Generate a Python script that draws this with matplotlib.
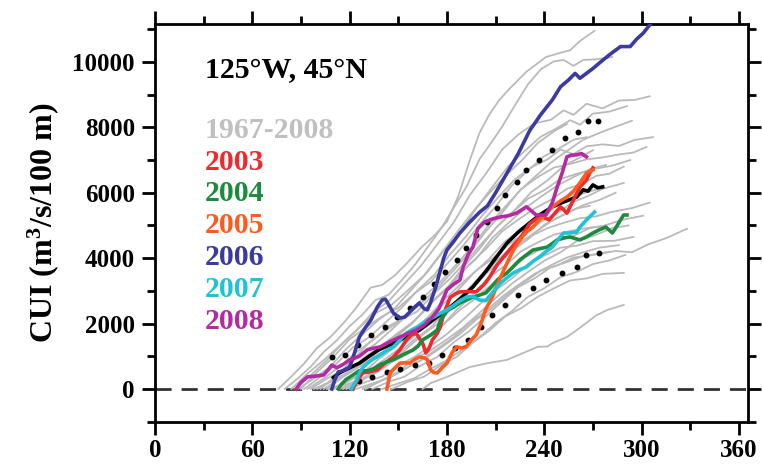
import matplotlib
matplotlib.use("Agg")
import matplotlib.pyplot as plt
from matplotlib.ticker import MultipleLocator

plt.rcParams['font.family'] = ['Liberation Serif', 'DejaVu Serif']
plt.rcParams['font.weight'] = 'bold'
plt.rcParams['mathtext.fontset'] = 'custom'
plt.rcParams['mathtext.rm'] = 'Liberation Serif:bold'
plt.rcParams['mathtext.bf'] = 'Liberation Serif:bold'
plt.rcParams['mathtext.default'] = 'bf'

# cumulative upwelling index, 1967-2008 (day of year, CUI)
grey_years = [
    [(76,0),(84,380),(92,780),(100,1260),(108,1580),(116,2000),(124,2480),(133,3100),(140,3180),(148,3480),(156,3880),(164,4320),(172,4680),(180,5120),(187,5900),(194,6980),(200,7820),(206,8380),(212,8820),(218,9150),(229,9700),(241,10150),(250,10280),(256,10360),(262,10640),(271,10950)],
    [(80,0),(88,320),(96,680),(104,1130),(112,1480),(120,1920),(128,2280),(136,2720),(144,2880),(152,3320),(160,3780),(168,4330),(176,4880),(184,5520),(192,6180),(200,7020),(208,7580),(214,8020),(222,8680),(230,9320),(238,9780),(246,10020),(252,10060),(258,9880),(264,10060),(272,10080),(282,10150)],
    [(84,0),(94,470),(104,880),(114,1330),(124,1770),(134,2330),(144,2680),(154,3230),(164,3770),(174,4420),(184,5080),(194,5920),(204,6580),(214,7320),(224,7780),(234,8120),(244,8230),(252,8520),(258,8380),(266,8720),(276,8580),(286,8820),(296,8840),(305,8950)],
    [(88,0),(98,320),(108,680),(118,1230),(128,1680),(138,2120),(148,2480),(158,3030),(168,3580),(178,4230),(188,4780),(198,5520),(208,6180),(218,6820),(228,7280),(238,7720),(248,7980),(256,8220),(262,8080),(270,8420),(280,8480),(291,8650)],
    [(92,0),(102,370),(112,780),(122,1270),(132,1580),(142,2030),(152,2480),(162,3020),(172,3480),(182,4120),(192,4680),(202,5320),(212,5880),(222,6420),(232,6780),(242,7020),(250,7320),(258,7180),(266,7420),(276,7480),(286,7430),(296,7620),(307,7700)],
    [(96,0),(106,320),(116,580),(126,1030),(136,1380),(146,1820),(156,2280),(166,2830),(176,3280),(186,3820),(196,4380),(206,5030),(216,5580),(226,6120),(236,6480),(246,6770),(256,6880),(266,7020),(276,7080),(286,7170),(295,7230),(303,7400)],
    [(100,0),(110,270),(120,530),(130,970),(140,1330),(150,1720),(160,2080),(170,2630),(180,3080),(190,3720),(200,4280),(210,4920),(220,5380),(230,5820),(240,6080),(250,6420),(260,6580),(270,6720),(282,6830),(293,7000)],
    [(104,0),(114,320),(124,680),(134,1020),(144,1380),(154,1820),(164,2280),(174,2820),(184,3280),(194,3820),(204,4280),(214,4820),(224,5180),(234,5520),(244,5780),(254,6120),(264,6280),(272,6520),(280,6580),(289,6800)],
    [(108,0),(118,220),(128,480),(138,920),(148,1280),(158,1720),(168,2180),(178,2720),(188,3180),(198,3620),(208,3980),(218,4420),(228,4780),(238,5120),(248,5380),(258,5720),(266,5880),(276,6120),(289,6300)],
    [(112,0),(122,320),(132,580),(142,920),(152,1280),(162,1720),(172,2080),(182,2520),(192,2980),(202,3520),(212,3980),(222,4420),(232,4680),(242,4920),(252,5080),(262,5220),(272,5280),(282,5420),(294,5530),(305,5700)],
    [(116,0),(126,270),(136,480),(146,820),(156,1080),(166,1520),(176,1880),(186,2420),(196,2880),(206,3420),(216,3780),(226,4220),(236,4480),(246,4720),(256,4830),(266,4920),(276,4980),(288,5170),(301,5300)],
    [(134,0),(144,220),(154,380),(164,720),(174,980),(184,1420),(194,1780),(204,2220),(214,2680),(224,3120),(234,3380),(244,3720),(254,3880),(264,4070),(274,4130),(284,4220),(294,4180),(304,4420),(316,4630),(328,4900)],
    [(120,0),(130,220),(140,380),(150,720),(160,980),(170,1320),(180,1680),(190,2120),(200,2580),(210,3020),(220,3380),(230,3820),(240,4080),(250,4320),(260,4380),(270,4520),(283,4530),(295,4650)],
    [(165,0),(170,180),(180,370),(194,670),(205,790),(217,890),(227,1100),(236,1290),(242,1300),(245,1400),(254,1590),(260,1800),(266,2020),(272,2250),(279,2420),(289,2570)],
    [(86,0),(96,420),(106,880),(116,1420),(126,1880),(136,2320),(146,2580),(156,3020),(166,3480),(176,4120),(186,4780),(196,5420),(206,5980),(216,6520),(226,6980),(236,7520),(246,7880),(254,8100)],
    [(90,0),(100,520),(110,980),(120,1520),(130,1880),(140,2220),(150,2480),(160,2920),(170,3280),(180,3820),(190,4380),(200,5020),(210,5580),(220,6220),(230,6680),(240,7120),(250,7380),(258,7620),(266,7700)],
    [(98,0),(108,220),(118,480),(128,920),(138,1280),(148,1620),(158,1980),(168,2520),(178,2980),(188,3520),(198,3980),(208,4620),(218,5080),(228,5520),(238,5880),(248,6220),(258,6480),(268,6720),(278,6850)],
    [(106,0),(116,370),(126,680),(136,1020),(146,1280),(156,1720),(166,2080),(176,2520),(186,2980),(196,3520),(206,3980),(216,4520),(226,4880),(236,5320),(246,5580),(256,5920),(264,5980),(272,6100)],
    [(110,0),(120,170),(130,380),(140,720),(150,1080),(160,1520),(170,1880),(180,2420),(190,2880),(200,3420),(210,3780),(220,4220),(230,4580),(240,5020),(250,5280),(260,5520),(268,5600)],
    [(114,0),(124,220),(134,430),(144,820),(154,1180),(164,1620),(174,1980),(184,2520),(194,2980),(204,3520),(214,3980),(224,4420),(234,4780),(244,5120),(254,5380),(264,5620),(274,5780),(284,6000)],
    [(118,0),(128,270),(138,580),(148,920),(158,1180),(168,1620),(178,1980),(188,2420),(198,2780),(208,3220),(218,3580),(228,4020),(238,4280),(248,4520),(258,4680),(268,4920),(278,5000)],
    [(124,0),(134,170),(144,330),(154,620),(164,880),(174,1220),(184,1580),(194,2020),(204,2380),(214,2820),(224,3180),(234,3520),(244,3780),(254,4020),(264,4180),(274,4320),(286,4400)],
    [(128,0),(138,220),(148,430),(158,720),(168,980),(178,1320),(188,1680),(198,2120),(208,2480),(218,2920),(228,3280),(238,3620),(248,3780),(258,4020),(268,4080),(280,4200)],
    [(140,0),(150,170),(160,330),(170,620),(180,880),(190,1220),(200,1580),(210,2020),(220,2380),(230,2820),(240,3080),(250,3420),(260,3580),(270,3820),(280,3930),(290,4100)],
    [(146,0),(156,220),(166,380),(176,720),(186,980),(196,1420),(206,1780),(216,2220),(226,2480),(236,2820),(246,3080),(256,3320),(266,3380),(276,3520),(289,3550)],
    [(102,0),(112,420),(122,880),(132,1420),(142,1780),(152,2120),(162,2380),(172,2920),(182,3380),(192,3920),(202,4480),(212,5020),(222,5480),(232,6020),(242,6380),(252,6820),(262,7080),(270,7300)],
    [(94,0),(104,320),(114,680),(124,1120),(134,1480),(144,1920),(154,2180),(164,2620),(174,3080),(184,3620),(194,4180),(204,4820),(214,5380),(224,6020),(234,6480),(244,6920),(254,7280),(264,7620),(274,7830),(284,8020),(294,8200)],
    [(130,0),(140,270),(150,530),(160,920),(170,1180),(180,1520),(190,1880),(200,2320),(210,2780),(220,3220),(230,3580),(240,3920),(250,4180),(260,4520),(270,4680),(282,4920),(292,5000)],
]

cui_2003 = [(122,0),(124,180),(126,350),(128,490),(132,520),(137,580),(142,800),(147,980),(151,1200),(155,1500),(158,1650),(161,1710),(163,1550),(165,1400),(167,1100),(169,1250),(171,1500),(174,1700),(176,1900),(178,2300),(180,2550),(182,2800),(185,2900),(188,2970),(193,2980),(198,2970),(203,3200),(206,3400),(211,3800),(217,4160),(221,4400),(225,4600),(231,5050),(235,5200),(239,5260),(243,5170),(247,5400),(250,5570),(254,5380),(258,5780),(262,6180),(266,6390),(268,6600),(270,6760)]
cui_2004 = [(113,0),(115,150),(118,300),(120,360),(126,560),(131,560),(135,620),(139,750),(144,850),(147,900),(151,1000),(155,1100),(159,1190),(162,1300),(165,1500),(170,1650),(174,1800),(176,2100),(180,2400),(184,2500),(188,2630),(192,2720),(196,2810),(200,2870),(204,2940),(208,3150),(211,3330),(214,3450),(217,3550),(221,3750),(225,3950),(229,4100),(233,4250),(238,4300),(242,4340),(245,4450),(248,4560),(252,4620),(256,4650),(259,4600),(262,4560),(266,4650),(270,4770),(274,4870),(278,4950),(282,4770),(285,5000),(287,5170),(289,5320),(291,5320)]
cui_2005 = [(143,0),(144,250),(145,490),(148,650),(151,790),(154,800),(157,790),(160,900),(163,980),(166,950),(168,890),(170,580),(172,500),(174,490),(177,650),(180,790),(183,1100),(186,1290),(189,1250),(192,1300),(195,1500),(198,1650),(201,2000),(204,2450),(208,2810),(212,3300),(217,3850),(221,4250),(225,4560),(229,4800),(233,4950),(237,5170),(241,5350),(245,5570),(250,5750),(254,5870),(258,6050),(262,6300),(266,6600),(270,6700)]
cui_2006 = [(109,0),(111,300),(113,520),(116,560),(120,670),(123,1100),(126,1590),(130,1900),(133,2100),(137,2500),(140,2720),(142,2750),(145,2500),(147,2320),(151,2170),(154,2200),(157,2350),(160,2500),(163,2630),(166,2450),(168,2420),(170,2660),(173,3100),(176,3640),(178,4000),(180,4250),(184,4500),(188,4770),(194,5100),(200,5400),(205,5600),(210,6000),(217,6600),(224,7200),(231,7900),(238,8400),(245,8840),(250,9240),(255,9450),(259,9650),(262,9500),(266,9650),(270,9800),(276,10050),(281,10250),(287,10470),(293,10470),(297,10700),(301,10880),(305,11130)]
cui_2007 = [(121,0),(124,250),(126,490),(128,650),(131,790),(134,900),(137,980),(142,1150),(147,1290),(151,1500),(155,1710),(158,1800),(162,1900),(165,2000),(168,2110),(172,2200),(176,2320),(180,2420),(184,2550),(188,2700),(192,2810),(196,2830),(200,2720),(204,2700),(208,2950),(213,3240),(217,3400),(221,3550),(225,3650),(229,3730),(233,3900),(237,4040),(241,4200),(245,4340),(249,4600),(252,4770),(256,4770),(260,4800),(262,4950),(266,5170),(271,5410)]
cui_2008 = [(87,0),(90,200),(94,370),(100,400),(104,430),(107,600),(109,730),(112,650),(116,750),(120,890),(126,1000),(131,1200),(135,1250),(139,1290),(145,1450),(151,1590),(156,1700),(161,1800),(166,1950),(171,2200),(175,2450),(178,2800),(180,3030),(184,3200),(188,3330),(190,3730),(193,4100),(196,4340),(199,4900),(203,5100),(208,5200),(213,5260),(218,5300),(223,5380),(229,5570),(232,5450),(235,5320),(241,5320),(245,5700),(248,6180),(251,6600),(254,7100),(257,7150),(260,7160),(263,7200),(266,7100)]

cui_mean = [(110,350),(114,500),(120,650),(126,790),(132,1000),(138,1200),(147,1400),(155,1600),(163,1800),(171,2100),(180,2420),(188,2750),(196,3120),(204,3600),(210,4000),(217,4460),(224,4800),(231,5080),(238,5350),(245,5570),(252,5720),(260,5870),(264,6090),(267,6050),(270,6240),(273,6150),(276,6180)]
cui_plus_std = [(109,980),(117,1040),(125,1340),(133,1650),(142,1900),(149,2200),(157,2470),(165,2810),(172,3200),(179,3580),(186,3940),(192,4310),(198,4710),(205,5110),(211,5530),(216,5930),(223,6330),(229,6700),(237,7000),(245,7310),(253,7680),(261,7860),(267,8200),(273,8200)]
cui_minus_std = [(126,250),(134,370),(143,520),(151,620),(160,730),(169,790),(177,1040),(185,1250),(193,1500),(201,1900),(208,2260),(216,2570),(224,2870),(233,3090),(241,3330),(251,3550),(260,3730),(266,4100),(274,4160)]

years = ['2003', '2004', '2005', '2006', '2007', '2008']
year_colors = ['#ee2a2e', '#1e8a3e', '#ff5b1e', '#3a3aa0', '#1ec3d6', '#b42aa2']
year_cui = [cui_2003, cui_2004, cui_2005, cui_2006, cui_2007, cui_2008]

fig = plt.figure(figsize=(7.62, 4.67), dpi=100)
ax = fig.add_axes([0.2034, 0.097, 0.7782, 0.8516])

for run in grey_years:
    d, v = zip(*run)
    ax.plot(d, v, color='#bababa', lw=1.3, zorder=2)

ax.axhline(0, color='#333333', lw=2, dashes=(5.8, 3.6), zorder=1)

d, v = zip(*cui_plus_std)
ax.plot(d, v, 'o', color='black', ms=3.2, zorder=4)
d, v = zip(*cui_minus_std)
ax.plot(d, v, 'o', color='black', ms=3.2, zorder=4)

d, v = zip(*cui_mean)
ax.plot(d, v, color='black', lw=2.6, zorder=5)

for c, col in zip(year_cui, year_colors):
    d, v = zip(*c)
    ax.plot(d, v, color=col, lw=2.6, zorder=6, solid_joinstyle='round')

ax.set_xlim(0, 365.6)
ax.set_ylim(-1000, 11160)
ax.xaxis.set_major_locator(MultipleLocator(60))
ax.xaxis.set_minor_locator(MultipleLocator(30))
ax.yaxis.set_major_locator(MultipleLocator(2000))
ax.yaxis.set_minor_locator(MultipleLocator(1000))
ax.tick_params(which='both', direction='out', width=2, top=True, right=True,
               labelsize=18)
ax.tick_params(which='major', length=9.5)
ax.tick_params(which='minor', length=5.5)
ax.tick_params(axis='x', pad=3)
ax.tick_params(axis='y', pad=5)
for s in ax.spines.values():
    s.set_linewidth(2)

ax.set_ylabel('CUI (m$^3$/s/100 m)', fontsize=23, fontweight='bold', labelpad=8)

ax.text(0.084, 0.884, '125°W, 45°N', transform=ax.transAxes, fontsize=21.5,
        fontweight='bold', va='center', ha='left')
ax.text(0.084, 0.733, '1967-2008', transform=ax.transAxes, fontsize=21.5,
        fontweight='bold', va='center', ha='left', color='#c0c0c0')
for i, (yr, col) in enumerate(zip(years, year_colors)):
    ax.text(0.084, 0.653 - i * 0.0803, yr, transform=ax.transAxes, fontsize=21.5,
            fontweight='bold', va='center', ha='left', color=col)

fig.savefig('out.png', dpi=100)
